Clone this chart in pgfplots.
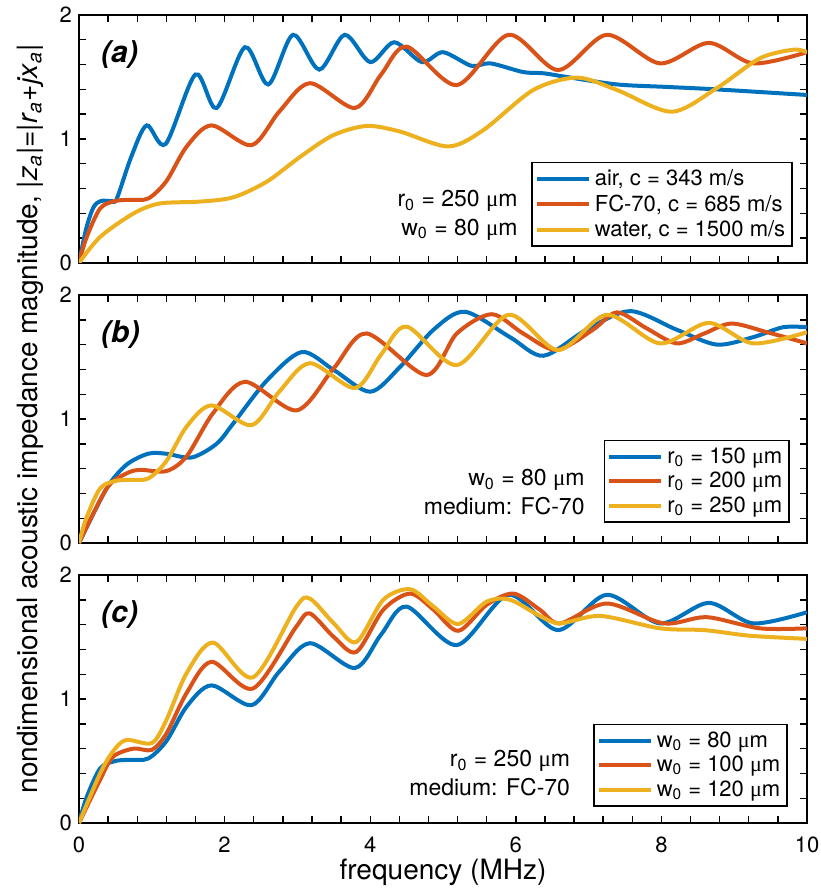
\documentclass[border=0pt]{standalone}
\usepackage{fontspec}
\setmainfont{TeX Gyre Heros}
\newfontfamily\mufont{Liberation Serif}
\usepackage{pgfplots}
\pgfplotsset{compat=1.18}
\definecolor{mblue}{rgb}{0,0.447,0.741}
\definecolor{mred}{rgb}{0.850,0.325,0.098}
\definecolor{myel}{rgb}{0.929,0.694,0.125}
\newcommand{\um}{{\mufont μ}m}

\pgfplotstableread{
f y
0 0
0.10 0.20
0.29 0.44
0.50 0.50
0.70 0.51
0.95 0.52
1.20 0.66
1.48 0.94
1.82 1.11
2.37 0.95
2.75 1.22
3.17 1.45
3.79 1.25
4.15 1.52
4.50 1.745
5.19 1.435
5.90 1.84
6.58 1.556
7.25 1.84
7.98 1.61
8.65 1.775
9.26 1.61
10 1.70
}\fcseventy

\pgfplotstableread{
f y
0 0
0.10 0.28
0.20 0.45
0.30 0.50
0.45 0.50
0.52 0.52
0.72 0.86
0.93 1.11
1.19 0.96
1.60 1.52
1.89 1.25
2.28 1.74
2.60 1.44
2.94 1.84
3.30 1.56
3.65 1.84
4.00 1.62
4.33 1.78
4.71 1.62
5.00 1.70
5.39 1.59
5.65 1.61
6.10 1.54
6.38 1.53
6.70 1.50
7.39 1.44
8.07 1.42
8.76 1.40
10 1.355
}\air

\pgfplotstableread{
f y
0 0
0.29 0.21
0.75 0.40
1.11 0.48
1.66 0.495
2.12 0.53
2.58 0.656
3.04 0.857
3.49 1.03
3.95 1.105
4.41 1.06
5.07 0.94
5.55 1.07
6.24 1.395
6.84 1.495
7.39 1.395
8.14 1.22
8.76 1.41
9.35 1.65
9.81 1.72
10 1.70
}\water

\pgfplotstableread{
f y
0 0
0.38 0.44
0.65 0.63
0.95 0.72
1.20 0.72
1.55 0.69
1.89 0.80
2.12 0.965
2.58 1.31
3.06 1.54
3.50 1.395
4.00 1.22
4.41 1.42
4.87 1.72
5.30 1.865
5.92 1.66
6.38 1.51
6.97 1.72
7.57 1.87
8.21 1.72
8.76 1.60
9.26 1.66
9.67 1.74
10 1.74
}\rone

\pgfplotstableread{
f y
0 0
0.38 0.44
0.65 0.56
0.84 0.59
1.20 0.58
1.48 0.70
1.84 1.046
2.28 1.30
2.99 1.07
3.50 1.41
3.95 1.69
4.77 1.355
5.19 1.69
5.67 1.845
6.10 1.69
6.56 1.556
7.06 1.72
7.39 1.86
7.80 1.73
8.21 1.61
8.59 1.69
8.96 1.77
9.45 1.70
10 1.61
}\rtwo

\pgfplotstableread{
f y
0 0
0.29 0.35
0.47 0.535
0.75 0.60
1.00 0.59
1.20 0.72
1.48 1.05
1.82 1.30
2.39 1.085
2.98 1.58
3.17 1.69
3.50 1.50
3.81 1.38
4.18 1.72
4.55 1.85
4.87 1.72
5.21 1.55
5.60 1.76
5.97 1.85
6.33 1.72
6.61 1.61
7.25 1.77
8.03 1.61
8.62 1.66
9.35 1.57
10 1.57
}\wone

\pgfplotstableread{
f y
0 0
0.29 0.40
0.47 0.58
0.65 0.67
1.00 0.645
1.20 0.83
1.48 1.21
1.84 1.455
2.39 1.175
2.98 1.74
3.17 1.81
3.50 1.61
3.81 1.46
4.18 1.80
4.55 1.885
4.87 1.745
5.21 1.605
5.60 1.785
5.92 1.80
6.33 1.67
6.61 1.61
7.16 1.67
7.98 1.57
8.60 1.555
9.22 1.51
10 1.485
}\wtwo

\pgfplotsset{
 panel/.style={
  scale only axis, width=364pt, height=124pt,
  xmin=0, xmax=10, ymin=0, ymax=2,
  xtick={0,2,...,10}, minor x tick num=4,
  ytick={0,1,2}, minor y tick num=4,
  tick align=inside, major tick length=3.5pt, minor tick length=3.5pt,
  axis line style={line width=0.9pt},
  every tick/.style={black, line width=0.7pt},
  tick label style={font=\fontsize{11}{13}\selectfont},
  xticklabel style={yshift=-3.5pt},
  /pgf/number format/assume math mode=true,
  legend cell align=left,
  legend style={draw=black, line width=0.8pt, font=\fontsize{11}{12}\selectfont, inner sep=1.5pt, row sep=-1pt},
  legend image code/.code={\draw[##1] (0pt,0pt) -- (26pt,0pt);},
  every axis plot/.append style={line width=2pt, smooth},
 },
}
\tikzset{
 lab/.style={anchor=north west, inner sep=0, font=\fontsize{15}{15}\selectfont\bfseries\itshape},
 ann/.style={anchor=south east, align=right, inner sep=0, font=\fontsize{11.5}{14.3}\selectfont},
}

\begin{document}
\begin{tikzpicture}
% panel (a)
\begin{axis}[panel, name=A, at={(39.5pt,-7.5pt)}, anchor=north west, xticklabels={},
  legend style={at={(axis description cs:1,0)}, anchor=south east, xshift=-7pt, yshift=8pt}]
\addplot[mblue] table[x=f,y=y] {\air};
\addlegendentry{air, c = 343 m/s}
\addplot[mred] table[x=f,y=y] {\fcseventy};
\addlegendentry{FC-70, c = 685 m/s}
\addplot[myel] table[x=f,y=y] {\water};
\addlegendentry{water, c = 1500 m/s}
\node[lab] at (axis description cs:0.03,0.90) {(a)};
\node[ann] at (axis description cs:0.603,0.09) {r\textsubscript{0} = 250 \um\\ w\textsubscript{0} = 80 \um};
\end{axis}
% panel (b)
\begin{axis}[panel, name=B, at={(39.5pt,-147.5pt)}, anchor=north west, xticklabels={},
  ylabel={nondimensional acoustic impedance magnitude, |\textit{z}\textsubscript{\textit{a}}|=|\textit{r}\textsubscript{\textit{a}}+\textit{jx}\textsubscript{\textit{a}}|},
  ylabel style={at={(axis description cs:-0.0673,0.5)}, anchor=center, font=\fontsize{14}{16}\selectfont},
  legend style={at={(axis description cs:1,0)}, anchor=south east, xshift=-8.5pt, yshift=10pt}]
\addplot[mblue] table[x=f,y=y] {\rone};
\addlegendentry{r\textsubscript{0} = 150 \um}
\addplot[mred] table[x=f,y=y] {\rtwo};
\addlegendentry{r\textsubscript{0} = 200 \um}
\addplot[myel] table[x=f,y=y] {\fcseventy};
\addlegendentry{r\textsubscript{0} = 250 \um}
\node[lab] at (axis description cs:0.03,0.90) {(b)};
\node[ann] at (axis description cs:0.695,0.113) {w\textsubscript{0} = 80 \um\\ medium: FC-70};
\end{axis}
% panel (c)
\begin{axis}[panel, name=C, at={(39.5pt,-287.5pt)}, anchor=north west,
  xlabel={frequency (MHz)},
  xlabel style={at={(axis description cs:0.5,-0.1976)}, anchor=center, font=\fontsize{14}{16}\selectfont},
  legend style={at={(axis description cs:1,0)}, anchor=south east, xshift=-9.5pt, yshift=8pt}]
\addplot[mblue] table[x=f,y=y] {\fcseventy};
\addlegendentry{w\textsubscript{0} = 80 \um}
\addplot[mred] table[x=f,y=y] {\wone};
\addlegendentry{w\textsubscript{0} = 100 \um}
\addplot[myel] table[x=f,y=y] {\wtwo};
\addlegendentry{w\textsubscript{0} = 120 \um}
\node[lab] at (axis description cs:0.03,0.90) {(c)};
\node[ann] at (axis description cs:0.675,0.109) {r\textsubscript{0} = 250 \um\\ medium: FC-70};
\end{axis}
\pgfresetboundingbox
\path (0,0) rectangle (410pt,-446pt);
\end{tikzpicture}
\end{document}
